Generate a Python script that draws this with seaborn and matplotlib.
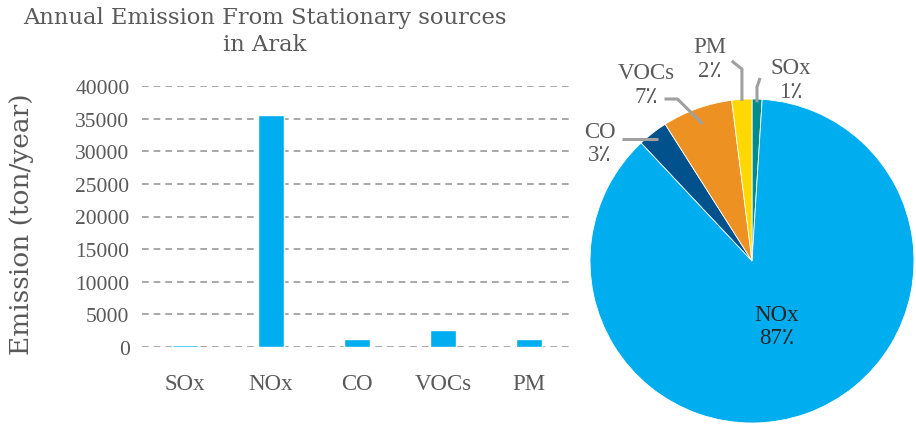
import matplotlib
matplotlib.use("Agg")
import matplotlib.pyplot as plt
import seaborn as sns
import numpy as np
import pandas as pd

# Annual emissions (ton/year) by pollutant
pollutants = ["SOx", "NOx", "CO", "VOCs", "PM"]
emissions = [250, 35600, 1180, 2560, 1180]

# Share of each pollutant (%) for the pie, in drawing order
pie_labels = ["SOx", "NOx", "CO", "VOCs", "PM"]
pie_shares = [1, 87, 3, 7, 2]
pie_colors = ["#008C8B", "#00AEEF", "#00518C", "#ED9123", "#FFD800"]

y_ticks = [0, 5000, 10000, 15000, 20000, 25000, 30000, 35000, 40000]

sns.set_theme(style="white")
plt.rcParams["font.family"] = ["Liberation Serif", "DejaVu Sans"]

W, H = 916, 427
fig = plt.figure(figsize=(W / 100, H / 100), dpi=100)

GRAY = "#595959"

# ---- bar chart ----
ax = fig.add_axes([142 / W, (H - 348) / H, 430 / W, 261 / H])
df = pd.DataFrame({"pollutant": pollutants, "emission": emissions})
sns.barplot(data=df, x="pollutant", y="emission", color="#00AEEF",
            saturation=1, width=0.31, ax=ax, zorder=3)
ax.set_ylim(0, 40000)
ax.set_yticks(y_ticks)
ax.set_yticklabels([str(t) for t in y_ticks])
ax.yaxis.grid(True, linestyle=(0, (4, 3)), color="#999999", linewidth=1.2, zorder=0)
ax.xaxis.grid(False)
for s in ax.spines.values():
    s.set_visible(False)
ax.tick_params(axis="both", length=0, labelcolor=GRAY)
ax.tick_params(axis="x", pad=19, labelsize=16.5)
ax.tick_params(axis="y", pad=9, labelsize=15.5)
ax.set_xlabel("")
ax.set_ylabel("Emission (ton/year)", family="DejaVu Serif", fontsize=19,
              color=GRAY)
ax.yaxis.set_label_coords(-0.25, 0.475)
ax.set_xlim(-0.5, 4.5)

fig.text(265 / W, 1 - 18 / H, "Annual Emission From Stationary sources",
         ha="center", va="center", family="DejaVu Serif", fontsize=16.3, color=GRAY)
fig.text(265 / W, 1 - 45 / H, "in Arak",
         ha="center", va="center", family="DejaVu Serif", fontsize=16.3, color=GRAY)

# ---- pie chart ----
R = 162
cx, cy = 752, 262
pax = fig.add_axes([(cx - R) / W, (H - cy - R) / H, 2 * R / W, 2 * R / H])
wedges, _ = pax.pie(pie_shares, colors=pie_colors, startangle=90,
                    counterclock=False, radius=1,
                    wedgeprops=dict(edgecolor="white", linewidth=0.6))
pax.set_xlim(-1, 1)
pax.set_ylim(-1, 1)
pax.set_axis_off()

# mid-angle of each wedge
angles = []
start = 90.0
for v in pie_shares:
    sweep = 360.0 * v / sum(pie_shares)
    angles.append(np.deg2rad(start - sweep / 2))
    start -= sweep

pct = "\u066A"
# label centre, leader start, leader elbow, anchor radius
label_layout = {
    "SOx": ((0.24, 1.12), (0.05, 1.13), None, 0.98),
    "PM": ((-0.26, 1.25), (-0.125, 1.235), (None, 1.185), 0.99),
    "VOCs": ((-0.655, 1.09), (-0.54, 1.0), (-0.46, 1.0), 0.9),
    "CO": ((-0.94, 0.73), (-0.80, 0.76), None, 0.95),
}
for name, share, ang in zip(pie_labels, pie_shares, angles):
    txt = f"{name}\n{share}{pct}"
    if name == "NOx":
        pax.text(0.15, -0.40, txt, ha="center", va="center", fontsize=16.5,
                 color="#262626", linespacing=1.15)
        continue
    (lx, ly), p0, elbow, ra = label_layout[name]
    pax.text(lx, ly, txt, ha="center", va="center", fontsize=16.5,
             color=GRAY, linespacing=1.15)
    ax_, ay_ = ra * np.cos(ang), ra * np.sin(ang)
    xs, ys = [p0[0]], [p0[1]]
    if name == "SOx":
        xs.append(ax_); ys.append(1.074)
    elif name == "PM":
        xs.append(ax_); ys.append(elbow[1])
    elif elbow is not None:
        xs.append(elbow[0]); ys.append(elbow[1])
    if name == "CO":
        ys[0] = ay_
    xs.append(ax_); ys.append(ay_)
    pax.plot(xs, ys, color="#a0a0a0", linewidth=2.2, clip_on=False,
             solid_capstyle="butt")

fig.savefig("out.png", dpi=100)
